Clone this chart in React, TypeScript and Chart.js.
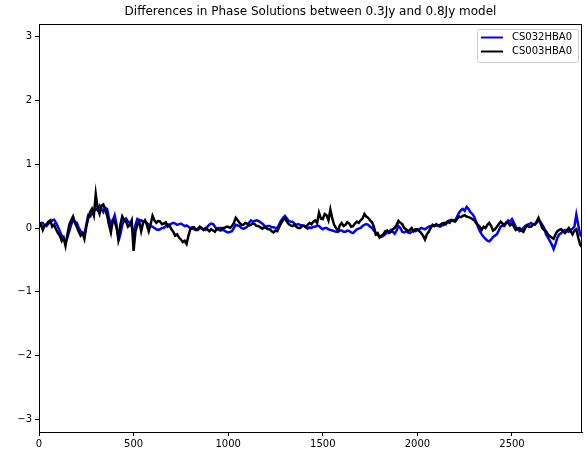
import React, { useEffect, useRef } from "react";
import { Chart, registerables } from "chart.js";

Chart.register(...registerables);

const TITLE = "Differences in Phase Solutions between 0.3Jy and 0.8Jy model";
const SERIES_NAMES = ["CS032HBA0", "CS003HBA0"];
const SERIES_COLORS = ["#0000ff", "#000000"];

const SAMPLE_STEP = 10;
const X_MAX = 2870;
const Y_MIN = -3.2;
const Y_MAX = 3.2;
const X_TICKS = [0, 500, 1000, 1500, 2000, 2500];
const Y_TICKS = [-3, -2, -1, 0, 1, 2, 3];

// CS032HBA0 (blue), sampled every 10 solutions (0 .. 2870)
const cs032 = [
  0.05, 0.08, 0.08, 0.04, 0.03, 0.07, 0.10, 0.12, 0.13, 0.08,
  0.02, -0.05, -0.12, -0.18, -0.23, -0.15, -0.05, 0.05, 0.12, 0.10,
  0.08, 0.00, -0.05, -0.08, -0.10, 0.05, 0.20, 0.18, 0.22, 0.26,
  0.30, 0.28, 0.35, 0.30, 0.25, 0.32, 0.30, 0.15, 0.05, 0.12,
  0.20, 0.05, -0.20, -0.10, 0.05, 0.12, 0.15, 0.10, 0.08, 0.02,
  -0.10, 0.05, 0.14, 0.12, 0.12, 0.10, 0.10, 0.08, 0.05, 0.03,
  0.02, 0.00, -0.02, -0.03, -0.02, 0.00, 0.00, 0.03, 0.06, 0.05,
  0.07, 0.08, 0.07, 0.05, 0.06, 0.07, 0.05, 0.03, 0.04, 0.02,
  0.00, -0.01, -0.02, -0.03, -0.03, 0.00, -0.01, -0.02, -0.03, 0.02,
  0.05, 0.07, 0.06, 0.02, -0.02, 0.00, 0.00, -0.03, -0.04, -0.06,
  -0.07, -0.06, -0.05, 0.00, 0.05, 0.04, 0.03, 0.00, -0.01, 0.00,
  0.02, 0.08, 0.12, 0.10, 0.11, 0.12, 0.11, 0.09, 0.07, 0.04,
  0.02, 0.03, 0.03, 0.01, 0.01, 0.00, 0.00, 0.06, 0.12, 0.16,
  0.19, 0.15, 0.11, 0.10, 0.10, 0.07, 0.05, 0.06, 0.05, 0.04,
  0.04, 0.02, -0.01, 0.01, 0.00, 0.02, 0.02, 0.04, 0.03, 0.00,
  -0.02, 0.00, 0.00, -0.02, -0.03, -0.04, -0.05, -0.06, -0.06, -0.04,
  -0.04, -0.06, -0.06, -0.04, -0.05, -0.07, -0.08, -0.05, -0.02, -0.01,
  0.00, 0.03, 0.05, 0.06, 0.05, 0.02, 0.00, -0.04, -0.08, -0.11,
  -0.13, -0.14, -0.12, -0.10, -0.07, -0.05, -0.03, -0.06, -0.09, -0.04,
  0.03, 0.00, -0.06, -0.07, -0.05, -0.07, -0.08, -0.06, -0.04, -0.05,
  -0.03, -0.02, 0.00, -0.01, -0.02, 0.00, 0.02, 0.03, 0.03, 0.04,
  0.04, 0.03, 0.02, 0.04, 0.05, 0.08, 0.10, 0.12, 0.13, 0.12,
  0.12, 0.18, 0.24, 0.28, 0.30, 0.27, 0.33, 0.30, 0.25, 0.22,
  0.18, 0.10, 0.02, -0.05, -0.10, -0.14, -0.17, -0.20, -0.21, -0.18,
  -0.14, -0.12, -0.10, -0.04, 0.02, 0.04, 0.03, 0.08, 0.12, 0.10,
  0.14, 0.08, 0.02, -0.02, -0.05, -0.03, 0.00, 0.03, 0.05, 0.06,
  0.08, 0.06, 0.05, 0.08, 0.12, 0.10, 0.05, 0.00, -0.10, -0.15,
  -0.20, -0.26, -0.33, -0.25, -0.15, -0.10, -0.08, -0.05, -0.03, -0.05,
  -0.06, -0.03, -0.01, 0.02, 0.21, 0.05, -0.10, -0.14,
];

// CS003HBA0 (black), sampled every 10 solutions (0 .. 2870)
const cs003 = [
  0.02, 0.06, -0.03, 0.04, 0.06, 0.10, 0.12, 0.02, 0.05, -0.02,
  -0.08, -0.12, -0.20, -0.15, -0.28, -0.10, 0.05, 0.12, 0.18, 0.08,
  0.02, -0.06, -0.12, -0.08, -0.17, 0.02, 0.15, 0.25, 0.30, 0.20,
  0.53, 0.30, 0.22, 0.35, 0.37, 0.28, 0.20, 0.05, -0.07, 0.12,
  0.10, 0.00, -0.15, 0.05, 0.18, 0.12, 0.10, 0.02, 0.05, 0.12,
  -0.36, -0.05, 0.05, 0.10, -0.05, 0.08, 0.12, 0.05, -0.05, 0.06,
  0.19, 0.12, 0.08, 0.11, 0.10, 0.06, 0.07, 0.09, 0.02, 0.04,
  -0.02, -0.06, -0.12, -0.10, -0.15, -0.18, -0.22, -0.20, -0.25, -0.12,
  -0.02, 0.01, 0.01, -0.03, -0.01, 0.02, 0.00, -0.03, 0.00, -0.02,
  -0.05, -0.02, -0.04, -0.06, -0.01, -0.03, -0.04, 0.00, 0.00, 0.02,
  0.02, 0.00, 0.03, 0.08, 0.16, 0.12, 0.08, 0.05, 0.05, 0.08,
  0.07, 0.04, 0.05, 0.07, 0.06, 0.03, 0.03, 0.01, -0.01, 0.01,
  0.00, -0.02, -0.02, -0.05, -0.07, -0.04, -0.05, 0.02, 0.08, 0.12,
  0.16, 0.10, 0.06, 0.04, 0.03, 0.05, 0.02, 0.00, 0.00, 0.03,
  0.03, 0.01, 0.05, 0.08, 0.06, 0.10, 0.12, 0.08, 0.24, 0.15,
  0.14, 0.22, 0.20, 0.12, 0.29, 0.15, 0.05, 0.00, -0.04, 0.04,
  0.08, 0.03, 0.05, 0.09, 0.07, 0.02, 0.03, 0.07, 0.10, 0.08,
  0.12, 0.15, 0.22, 0.18, 0.16, 0.12, 0.09, 0.02, -0.10, -0.08,
  -0.15, -0.12, -0.10, -0.05, -0.04, -0.08, -0.06, -0.02, 0.00, 0.05,
  0.11, 0.08, 0.06, 0.00, -0.02, -0.05, -0.03, 0.00, -0.05, -0.02,
  -0.02, -0.05, -0.08, -0.12, -0.18, -0.10, -0.06, 0.00, 0.05, 0.03,
  0.06, 0.04, 0.05, 0.07, 0.08, 0.06, 0.10, 0.08, 0.12, 0.11,
  0.10, 0.14, 0.18, 0.17, 0.19, 0.20, 0.18, 0.17, 0.16, 0.14,
  0.12, 0.08, 0.05, 0.02, -0.03, 0.02, 0.00, 0.05, 0.08, 0.03,
  -0.04, -0.02, 0.02, 0.06, 0.10, 0.07, 0.05, 0.09, 0.08, 0.04,
  0.07, 0.02, -0.03, -0.01, 0.00, -0.04, -0.06, 0.00, 0.04, 0.02,
  0.02, 0.05, 0.06, 0.10, 0.16, 0.08, 0.00, -0.03, -0.05, -0.10,
  -0.13, -0.15, -0.17, -0.10, -0.05, -0.03, -0.02, -0.05, -0.08, -0.04,
  0.00, -0.05, -0.10, -0.04, -0.02, -0.15, -0.26, -0.30,
];

const FONT = '"DejaVu Sans", sans-serif';

const toPoints = (vals: number[]) => vals.map((v, i) => ({ x: i * SAMPLE_STEP, y: v }));
const fmt = (v: number) => String(v).replace("-", "\u2212");

const framePlugin = {
  id: "frameTitleLegend",
  afterDraw(chart: any) {
    const { ctx, chartArea } = chart;
    const { left, right, top, bottom } = chartArea;
    ctx.save();
    // frame
    ctx.strokeStyle = "#000";
    ctx.lineWidth = 1;
    ctx.strokeRect(Math.round(left) + 0.5, Math.round(top) + 0.5, Math.round(right - left) - 1, Math.round(bottom - top));
    // title
    ctx.fillStyle = "#000";
    ctx.font = `12px ${FONT}`;
    ctx.textAlign = "center";
    ctx.textBaseline = "middle";
    ctx.fillText(TITLE, (left + right) / 2, 12);
    // legend
    const bx = right - 105;
    const by = top + 5;
    const bw = 101;
    const bh = 33;
    ctx.fillStyle = "rgba(255,255,255,0.8)";
    ctx.strokeStyle = "#cccccc";
    ctx.lineWidth = 1;
    ctx.beginPath();
    const r = 2;
    ctx.moveTo(bx + r + 0.5, by + 0.5);
    ctx.arcTo(bx + bw + 0.5, by + 0.5, bx + bw + 0.5, by + bh + 0.5, r);
    ctx.arcTo(bx + bw + 0.5, by + bh + 0.5, bx + 0.5, by + bh + 0.5, r);
    ctx.arcTo(bx + 0.5, by + bh + 0.5, bx + 0.5, by + 0.5, r);
    ctx.arcTo(bx + 0.5, by + 0.5, bx + bw + 0.5, by + 0.5, r);
    ctx.closePath();
    ctx.fill();
    ctx.stroke();
    ctx.font = `10px ${FONT}`;
    ctx.textAlign = "left";
    ctx.textBaseline = "middle";
    SERIES_NAMES.forEach((name, i) => {
      const ly = by + 8.5 + i * 14;
      ctx.strokeStyle = SERIES_COLORS[i];
      ctx.lineWidth = 2;
      ctx.beginPath();
      ctx.moveTo(bx + 4, ly);
      ctx.lineTo(bx + 26, ly);
      ctx.stroke();
      ctx.fillStyle = "#000";
      ctx.fillText(name, bx + 35, ly);
    });
    ctx.restore();
  },
};

export default function App() {
  const ref = useRef<HTMLCanvasElement | null>(null);
  useEffect(() => {
    if (!ref.current) return;
    const chart = new Chart(ref.current, {
      type: "line",
      data: {
        datasets: [
          {
            label: SERIES_NAMES[0],
            data: toPoints(cs032),
            borderColor: SERIES_COLORS[0],
            backgroundColor: SERIES_COLORS[0],
            borderWidth: 2.5,
            pointRadius: 0,
            tension: 0,
            order: 1,
          },
          {
            label: SERIES_NAMES[1],
            data: toPoints(cs003),
            borderColor: SERIES_COLORS[1],
            backgroundColor: SERIES_COLORS[1],
            borderWidth: 2.5,
            pointRadius: 0,
            tension: 0,
            order: 0,
          },
        ],
      },
      options: {
        responsive: false,
        animation: false,
        layout: { padding: { top: 24, right: 4, left: 0, bottom: 0 } },
        plugins: { legend: { display: false }, title: { display: false }, tooltip: { enabled: false } },
        scales: {
          x: {
            type: "linear",
            min: 0,
            max: X_MAX,
            afterBuildTicks: (axis: any) => {
              axis.ticks = X_TICKS.map((v) => ({ value: v }));
            },
            afterFit: (scale: any) => {
              scale.height = 18;
            },
            grid: { drawOnChartArea: false, drawTicks: true, tickLength: 4, tickColor: "#000", tickWidth: 1 },
            border: { display: true, color: "#000", width: 1 },
            ticks: { color: "#000", font: { family: FONT, size: 10 }, padding: 2, maxRotation: 0, autoSkip: false, callback: (v: any) => fmt(v) },
          },
          y: {
            type: "linear",
            min: Y_MIN,
            max: Y_MAX,
            afterBuildTicks: (axis: any) => {
              axis.ticks = Y_TICKS.map((v) => ({ value: v }));
            },
            afterFit: (scale: any) => {
              scale.width = 39;
            },
            grid: { drawOnChartArea: false, drawTicks: true, tickLength: 4, tickColor: "#000", tickWidth: 1 },
            border: { display: true, color: "#000", width: 1 },
            ticks: { color: "#000", font: { family: FONT, size: 10 }, padding: 3, autoSkip: false, callback: (v: any) => fmt(v) },
          },
        },
      },
      plugins: [framePlugin],
    });
    return () => chart.destroy();
  }, []);
  return (
    <div style={{ position: "absolute", left: 0, top: 0, width: 586, height: 450, background: "#fff" }}>
      <canvas ref={ref} width={586} height={450} style={{ display: "block" }} />
    </div>
  );
}
